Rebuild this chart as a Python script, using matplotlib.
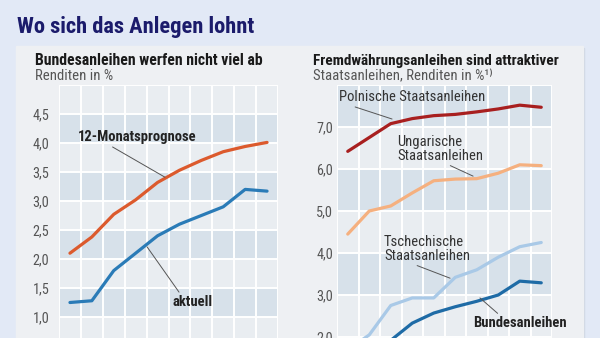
import matplotlib.pyplot as plt
from matplotlib.patches import Rectangle
import numpy as np

plt.rcParams['font.family'] = ['Roboto Condensed', 'Roboto', 'DejaVu Sans']

# Bundesanleihen: aktuell vs. 12-Monatsprognose
left_actual = [1.25, 1.28, 1.80, 2.10, 2.40, 2.60, 2.75, 2.90, 3.20, 3.17]
left_forecast = [2.10, 2.38, 2.77, 3.02, 3.32, 3.53, 3.70, 3.85, 3.94, 4.01]
left_ticks = [1.0, 1.5, 2.0, 2.5, 3.0, 3.5, 4.0, 4.5]

# Staatsanleihen in Fremdwaehrung
polen = [6.42, 6.75, 7.08, 7.20, 7.27, 7.30, 7.36, 7.43, 7.52, 7.47]
ungarn = [4.45, 5.00, 5.12, 5.43, 5.72, 5.76, 5.77, 5.90, 6.10, 6.08]
tschechien = [1.70, 2.05, 2.75, 2.93, 2.93, 3.42, 3.60, 3.90, 4.15, 4.25]
bund = [1.35, 1.60, 1.92, 2.33, 2.57, 2.72, 2.85, 3.00, 3.33, 3.29]
right_ticks = [2.0, 3.0, 4.0, 5.0, 6.0, 7.0]

W, H = 600, 338
fig = plt.figure(figsize=(6, 3.38), dpi=100)
fig.patch.set_facecolor('#e2e9f6')

def fx(px):
    return px / W

def fy(py):
    return 1 - py / H

# light panel behind both charts
fig.add_artist(Rectangle((fx(18), fy(400)), fx(584) - fx(18), fy(48) - fy(400),
                         transform=fig.transFigure, color='#cdd5e2', zorder=0))
fig.add_artist(Rectangle((fx(16), fy(400)), fx(583) - fx(16), fy(46) - fy(400),
                         transform=fig.transFigure, color='#eef0f3', zorder=0))

navy = '#1b1b6b'
fig.text(fx(17), fy(33), 'Wo sich das Anlegen lohnt', fontsize=16.2, fontweight='bold',
         color=navy, va='baseline')

fig.text(fx(35), fy(65), 'Bundesanleihen werfen nicht viel ab', fontsize=11.3,
         fontweight='bold', color='#1a1a1a', va='baseline')
fig.text(fx(35), fy(80), 'Renditen in %', fontsize=10.6, color='#555555', va='baseline')
fig.text(fx(313), fy(65), 'Fremdwährungsanleihen sind attraktiver', fontsize=11,
         fontweight='bold', color='#1a1a1a', va='baseline')
fig.text(fx(313), fy(80), 'Staatsanleihen, Renditen in %¹⁾', fontsize=10.6,
         color='#555555', va='baseline')

light = '#e9edf1'
dark = '#d7e1ea'


def setup(ax, lo, hi, step, dark_los, ticks, pad):
    ax.set_facecolor('none')
    ax.set_xlim(-0.5, 9.5)
    ax.set_ylim(lo, hi)
    for b in np.arange(lo, hi, step):
        c = dark if round(b, 2) in dark_los else light
        ax.axhspan(b, b + step, color=c, lw=0, zorder=0)
    for x in np.arange(-0.5, 10, 1):
        ax.axvline(x, color='white', lw=1.4, zorder=1)
    for y in np.arange(lo, hi + step / 2, step):
        ax.axhline(y, color='white', lw=1.4, zorder=1)
    for s in ax.spines.values():
        s.set_visible(False)
    ax.set_xticks([])
    ax.set_yticks(ticks)
    ax.set_yticklabels([f'{t:.1f}'.replace('.', ',') for t in ticks])
    ax.tick_params(axis='y', length=0, pad=pad, labelsize=10.3, labelcolor='#555555')


x = np.arange(10)

# left chart
ax1 = fig.add_axes([fx(59), fy(85 + 4.5 * 58), fx(278) - fx(59), 4.5 * 58 / H])
setup(ax1, 0.5, 5.0, 0.5, {4.0, 3.0, 2.0, 1.0}, left_ticks, 7)
ax1.plot(x, left_forecast, color='#dc5a2d', lw=2.3, zorder=3, solid_capstyle='round')
ax1.plot(x, left_actual, color='#2a7bb7', lw=2.3, zorder=3, solid_capstyle='round')
lead = dict(arrowstyle='-', color='#555555', lw=0.7, shrinkA=0, shrinkB=0)
ax1.annotate('12-Monatsprognose', xy=(4.34, 3.41), xytext=(3.08, 4.10),
             ha='center', va='center', fontsize=10.5, fontweight='bold', color='#222222',
             arrowprops=dict(lead, relpos=(0.25, 0.0)), zorder=4)
ax1.annotate('aktuell', xy=(3.52, 2.21), xytext=(5.62, 1.26),
             ha='center', va='center', fontsize=10.5, fontweight='bold', color='#222222',
             arrowprops=dict(lead, relpos=(0.2, 1.0)), zorder=4)

# right chart
ax2 = fig.add_axes([fx(337), fy(85 + 7 * 42), fx(552) - fx(337), 7 * 42 / H])
setup(ax2, 1.0, 8.0, 1.0, {7.0, 5.0, 3.0, 1.0}, right_ticks, 3)
ax2.plot(x, polen, color='#a81f1f', lw=2.3, zorder=3, solid_capstyle='round')
ax2.plot(x, ungarn, color='#f5b07f', lw=2.3, zorder=3, solid_capstyle='round')
ax2.plot(x, tschechien, color='#a9c9e7', lw=2.3, zorder=3, solid_capstyle='round')
ax2.plot(x, bund, color='#1e6ba6', lw=2.3, zorder=3, solid_capstyle='round')
ax2.annotate('Polnische Staatsanleihen', xy=(2.06, 7.19), xytext=(3.01, 7.71),
             ha='center', va='center', fontsize=10.5, color='#333333',
             arrowprops=dict(lead, relpos=(0.05, 0.0)), zorder=4)
ax2.annotate('Ungarische\nStaatsanleihen', xy=(5.83, 5.83), xytext=(2.29, 6.48),
             ha='left', va='center', fontsize=10.5, color='#333333', linespacing=1.0,
             arrowprops=dict(lead, relpos=(0.55, 0.0)), zorder=4)
ax2.annotate('Tschechische\nStaatsanleihen', xy=(4.76, 3.40), xytext=(1.69, 4.10),
             ha='left', va='center', fontsize=10.5, color='#333333', linespacing=1.0,
             arrowprops=dict(lead, relpos=(0.3, 0.0)), zorder=4)
ax2.annotate('Bundesanleihen', xy=(6.15, 2.93), xytext=(7.99, 2.33),
             ha='center', va='center', fontsize=10.5, fontweight='bold', color='#222222',
             arrowprops=dict(lead, relpos=(0.3, 1.0)), zorder=4)

fig.savefig('out.png', dpi=100, facecolor=fig.get_facecolor())
